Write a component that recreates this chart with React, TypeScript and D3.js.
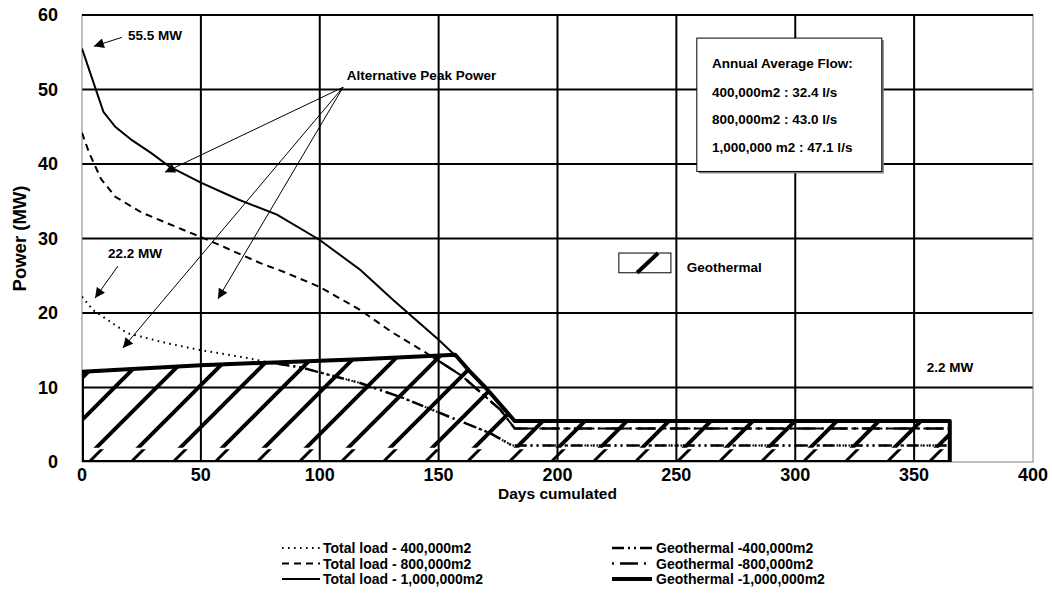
import React from 'react';
import * as d3 from 'd3';

// chart values (days, MW)
const xTicks = [0, 50, 100, 150, 200, 250, 300, 350, 400];
const yTicks = [0, 10, 20, 30, 40, 50, 60];

const load400 = [[0, 22.2], [4.6, 20.4], [19, 17.3], [35, 16], [50, 15], [69, 14], [78, 13.4], [92, 12.7], [117, 10.6], [135, 8.6], [155, 6], [171.5, 3.9], [181, 2.2], [365, 2.2]];
const load800 = [[0, 44.2], [3, 41.5], [8, 38], [14, 35.6], [25, 33.5], [40, 31.5], [53, 29.8], [75, 26.7], [85, 25.5], [100, 23.5], [117, 20.4], [130, 17.5], [145, 14.6], [160, 11.5], [176, 7], [182, 4.5], [365, 4.5]];
const load1M = [[0, 55.5], [9, 47], [14, 45], [21, 43.2], [29, 41.5], [37, 39.6], [50, 37.5], [66, 35.2], [82, 33.2], [100, 29.8], [117, 25.8], [131, 21.7], [150, 16.4], [157, 14.3], [170, 9.9], [182, 5.5], [365, 5.5]];

const geo400 = [[0, 12.1], [50, 13.0], [78, 13.4], [92, 12.7], [117, 10.6], [135, 8.6], [155, 6], [171.5, 3.9], [181, 2.2], [365, 2.2]];
const geo800 = [[0, 12.1], [50, 13.0], [117, 13.8], [147, 14.2], [160, 11.5], [176, 7], [182, 4.5], [365, 4.5]];
const geo1M = [[0, 12.1], [50, 13.0], [117, 13.8], [157, 14.4], [163, 12.2], [170, 9.9], [182, 5.5], [365, 5.5]];

const legendLeft = ['Total load - 400,000m2', 'Total load - 800,000m2', 'Total load - 1,000,000m2'];
const legendRight = ['Geothermal -400,000m2', 'Geothermal -800,000m2', 'Geothermal -1,000,000m2'];
const flowLines = ['Annual Average Flow:', '400,000m2 : 32.4 l/s', '800,000m2 : 43.0 l/s', '1,000,000 m2 : 47.1 l/s'];
const flowRows = [53.6, 49.7, 46.0, 42.3];

const FONT = '"Liberation Sans", Arial, sans-serif';

export default function App() {
  const width = 1052;
  const height = 596;
  const x = d3.scaleLinear().domain([0, 400]).range([82, 1033]);
  const y = d3.scaleLinear().domain([0, 60]).range([462, 15]);

  const line = d3.line<number[]>().x(d => x(d[0])).y(d => y(d[1]));
  const geoArea = d3.area<number[]>().x(d => x(d[0])).y0(y(0)).y1(d => y(d[1]));

  // line styles for the six series
  const styles = {
    load400: { dash: '1.6,4.4', w: 2 },
    load800: { dash: '7,5', w: 2 },
    load1M: { dash: null, w: 2 },
    geo400: { dash: '12,4,2,4,2,4', w: 2.5 },
    geo800: { dash: '2,6,18,6', w: 2.5 },
    geo1M: { dash: null, w: 4 },
  };
  const legendStyle = [styles.load400, styles.load800, styles.load1M];
  const legendStyleR = [styles.geo400, styles.geo800, styles.geo1M];

  const txt = { fontFamily: FONT, fontWeight: 700 } as React.CSSProperties;

  const arrow = (x1: number, y1: number, x2: number, y2: number, key: string) => (
    <line key={key} x1={x(x1)} y1={y(y1)} x2={x(x2)} y2={y(y2)} stroke="#000" strokeWidth={1} markerEnd="url(#head)" />
  );

  const peak = [109.8, 50.3];
  const band = 1.9; // hatch is broken just above the baseline in the original

  return (
    <svg width={width} height={height} style={{ position: 'absolute', left: 0, top: 0, background: '#fff' }}>
      <defs>
        <marker id="head" viewBox="0 0 10 10" refX="10" refY="5" markerWidth="12" markerHeight="10" markerUnits="userSpaceOnUse" orient="auto">
          <path d="M0,0 L10,5 L0,10 z" fill="#000" />
        </marker>
        <pattern id="hatch" patternUnits="userSpaceOnUse" width="42" height="42" x={x(0)} y={y(0)}>
          <path d="M-4,46 L46,-4 M-12,12 L12,-12 M30,54 L54,30" stroke="#000" strokeWidth="4" />
        </pattern>
        <pattern id="hatch2" patternUnits="userSpaceOnUse" width="42" height="42" x={x(0) + 7} y={y(0)}>
          <path d="M-4,46 L46,-4 M-12,12 L12,-12 M30,54 L54,30" stroke="#000" strokeWidth="3" />
        </pattern>
        <clipPath id="plot">
          <rect x={x(0)} y={y(60)} width={x(400) - x(0)} height={y(0) - y(60)} />
        </clipPath>
        <clipPath id="upper">
          <rect x={x(0)} y={y(60)} width={x(400) - x(0)} height={y(band) - y(60)} />
        </clipPath>
        <clipPath id="lower">
          <rect x={x(0)} y={y(band) + 1.5} width={x(400) - x(0)} height={y(0) - y(band) - 1.5} />
        </clipPath>
      </defs>

      {/* grid */}
      {yTicks.filter(t => t > 0).map(t => (
        <line key={'gy' + t} x1={x(0)} x2={x(400)} y1={y(t)} y2={y(t)} stroke="#000" strokeWidth={2} />
      ))}
      {xTicks.filter(t => t > 0 && t < 400).map(t => (
        <line key={'gx' + t} x1={x(t)} x2={x(t)} y1={y(0)} y2={y(60)} stroke="#000" strokeWidth={2} />
      ))}
      <rect x={x(0)} y={y(60)} width={x(400) - x(0)} height={y(0) - y(60)} fill="none" stroke="#808080" strokeWidth={1} />
      <line x1={x(0)} x2={x(400)} y1={y(60)} y2={y(60)} stroke="#000" strokeWidth={2} />

      <g clipPath="url(#plot)">
        <path d={geoArea(geo1M) || ''} fill="url(#hatch)" clipPath="url(#upper)" />
        <path d={geoArea(geo1M) || ''} fill="url(#hatch2)" clipPath="url(#lower)" />
        <path d={line(geo400) || ''} fill="none" stroke="#000" strokeWidth={styles.geo400.w} strokeDasharray={styles.geo400.dash} />
        <path d={line(geo800) || ''} fill="none" stroke="#000" strokeWidth={styles.geo800.w} strokeDasharray={styles.geo800.dash} />
        <path d={line(load400) || ''} fill="none" stroke="#000" strokeWidth={styles.load400.w} strokeDasharray={styles.load400.dash} />
        <path d={line(load800) || ''} fill="none" stroke="#000" strokeWidth={styles.load800.w} strokeDasharray={styles.load800.dash} />
        <path d={line(load1M) || ''} fill="none" stroke="#000" strokeWidth={styles.load1M.w} />
        <path d={geoArea(geo1M) || ''} fill="none" stroke="#000" strokeWidth={styles.geo1M.w} strokeLinejoin="round" />
      </g>

      {/* axes labels */}
      {yTicks.map(t => (
        <text key={'ty' + t} x={58} y={y(t)} dy="0.36em" textAnchor="end" style={{ ...txt, fontSize: 18 }}>{t}</text>
      ))}
      {xTicks.map(t => (
        <text key={'tx' + t} x={x(t)} y={475} dy="0.36em" textAnchor="middle" style={{ ...txt, fontSize: 18 }}>{t}</text>
      ))}
      <text x={x(200)} y={493} dy="0.36em" textAnchor="middle" style={{ ...txt, fontSize: 15.5 }}>Days cumulated</text>
      <text transform={`translate(19,${y(30)}) rotate(-90)`} dy="0.36em" textAnchor="middle" style={{ ...txt, fontSize: 18.5 }}>Power (MW)</text>

      {/* annotations */}
      <text x={x(19.3)} y={y(57.3)} dy="0.36em" style={{ ...txt, fontSize: 13.5 }}>55.5 MW</text>
      {arrow(16.8, 57.0, 5, 55.8, 'a0')}
      <text x={x(111.4)} y={y(51.9)} dy="0.36em" style={{ ...txt, fontSize: 13.5 }}>Alternative Peak Power</text>
      {arrow(peak[0], peak[1], 34.9, 38.9, 'a1')}
      {arrow(peak[0], peak[1], 17.2, 15.3, 'a2')}
      {arrow(peak[0], peak[1], 57.2, 21.9, 'a3')}
      <text x={x(10.9)} y={y(28.1)} dy="0.36em" style={{ ...txt, fontSize: 13.5 }}>22.2 MW</text>
      {arrow(15.1, 26.3, 5.5, 22, 'a4')}
      <text x={x(355.3)} y={y(12.75)} dy="0.36em" style={{ ...txt, fontSize: 13.5 }}>2.2 MW</text>

      {/* flow box */}
      <rect x={x(258.6) + 2} y={y(56.9) + 2} width={x(336.4) - x(258.6)} height={y(39) - y(56.9)} fill="#808080" />
      <rect x={x(258.6)} y={y(56.9)} width={x(336.4) - x(258.6)} height={y(39) - y(56.9)} fill="#fff" stroke="#000" strokeWidth={1} />
      {flowLines.map((s, i) => (
        <text key={'f' + i} x={x(265)} y={y(flowRows[i])} dy="0.36em" style={{ ...txt, fontSize: 13.5 }}>{s}</text>
      ))}

      {/* geothermal swatch */}
      <rect x={x(225.8)} y={y(28.05)} width={x(247.7) - x(225.8)} height={y(25.4) - y(28.05)} fill="#fff" stroke="#000" strokeWidth={1} />
      <line x1={x(233.5)} y1={y(25.4)} x2={x(242.3)} y2={y(28.05)} stroke="#000" strokeWidth={4} />
      <text x={x(254.4)} y={y(26.2)} dy="0.36em" style={{ ...txt, fontSize: 13.5 }}>Geothermal</text>

      {/* legend */}
      {legendLeft.map((s, i) => (
        <g key={'ll' + i} transform={`translate(282,${548 + i * 15.5})`}>
          <line x1={0} x2={38} y1={0} y2={0} stroke="#000" strokeWidth={legendStyle[i].w} strokeDasharray={legendStyle[i].dash || undefined} />
          <text x={41} dy="0.36em" style={{ ...txt, fontSize: 14 }}>{s}</text>
        </g>
      ))}
      {legendRight.map((s, i) => (
        <g key={'lr' + i} transform={`translate(612,${548 + i * 15.5})`}>
          <line x1={0} x2={40} y1={0} y2={0} stroke="#000" strokeWidth={legendStyleR[i].w} strokeDasharray={legendStyleR[i].dash || undefined} />
          <text x={44} dy="0.36em" style={{ ...txt, fontSize: 14 }}>{s}</text>
        </g>
      ))}
    </svg>
  );
}
